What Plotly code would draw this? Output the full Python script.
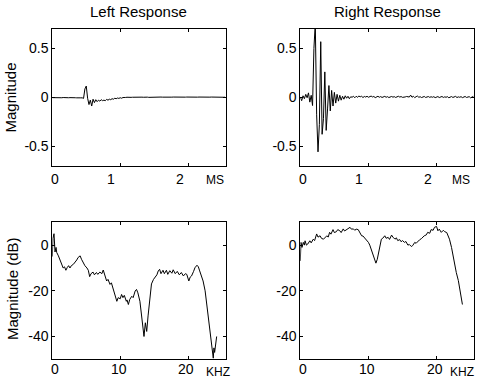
import plotly.graph_objects as go

# ---------------- data ----------------
DT_MS = 0.02  # sample period of the impulse responses (ms)

left_impulse = [
    -0.004, -0.005, -0.003, -0.005, -0.004, -0.006, -0.004, -0.005, -0.003, -0.005,
    -0.006, -0.004, -0.005, -0.004, -0.006, -0.005, -0.004, -0.005, -0.006, -0.004,
    -0.007, -0.006, -0.006, -0.012, 0.085, 0.115, -0.01, -0.075, -0.03, -0.09,
    -0.02, -0.055, -0.025, -0.045, -0.03, -0.04, -0.025, -0.035, -0.03, -0.035,
    -0.022, -0.03, -0.02, -0.025, -0.015, -0.02, -0.01, -0.015, -0.008, -0.012,
    -0.005, -0.01, -0.003, -0.006, -0.002, 0.0, -0.002, 0.001, -0.001, 0.0,
    0.001, -0.001, 0.0, 0.002, 0.0, -0.001, 0.001, 0.0, 0.002, 0.0,
    0.001, -0.001, 0.0, 0.001, 0.0, 0.002, 0.001, 0.0, 0.001, 0.0,
    0.002, 0.001, 0.0, 0.001, 0.003, 0.001, 0.0, 0.002, 0.001, 0.002,
    0.001, 0.0, 0.002, 0.001, 0.002, 0.001, 0.002, 0.0, 0.001, 0.002,
    0.001, 0.002, 0.001, 0.0, 0.002, 0.001, 0.0, 0.001, 0.002, 0.001,
    0.0, 0.001, 0.002, 0.004, 0.001, 0.0, 0.001, 0.002, 0.001, 0.0,
    0.001, 0.0, 0.002, 0.001, 0.0, 0.001, 0.0, 0.001,
]

right_impulse = [
    0.0, -0.035, 0.015, -0.015, 0.03, -0.005, 0.045, -0.05, 0.02, -0.085,
    0.50, 0.76, -0.18, -0.56, -0.28, 0.57, -0.38, -0.22, 0.26, -0.34,
    -0.12, 0.12, -0.14, 0.07, -0.09, 0.05, -0.06, 0.03,
    -0.04, 0.02, -0.03, 0.01, -0.02, 0.015, -0.01, 0.01, -0.015, 0.005, 0.0, 0.01, -0.005,
    0.01, 0.0, 0.012, 0.005, 0.01, -0.003, 0.008, 0.002, 0.01, 0.0,
    0.006, 0.012, 0.003, 0.008, -0.004, 0.005, 0.01, 0.0, 0.007, -0.002,
    0.004, 0.009, 0.0, 0.006, -0.003, 0.005, 0.008, 0.001, 0.006, -0.002,
    0.004, 0.01, 0.002, 0.007, -0.001, 0.005, 0.003, 0.008, 0.004, 0.002,
    0.022, 0.0, 0.01, -0.004, 0.006, 0.012, 0.0, 0.005, -0.003, 0.004,
    0.008, -0.002, 0.003, 0.007, -0.001, 0.005, 0.0, 0.006, -0.004, 0.003,
    0.007, -0.003, 0.002, 0.008, -0.002, 0.004, 0.0, 0.006, -0.005, 0.003,
    0.007, -0.002, 0.002, 0.009, -0.003, 0.004, 0.0, 0.006, -0.004, 0.005,
    0.008, -0.002, 0.003, 0.006, -0.006, 0.004, 0.009,
]

left_freq_khz = [
    0, 0.1, 0.25, 0.4, 0.55, 0.65, 0.9, 1.1, 1.4, 1.6, 1.8, 2.0, 2.2, 2.4, 2.6, 2.8,
    3.1, 3.4, 3.6, 3.8, 4.1, 4.3, 4.6, 4.8, 5.1, 5.3, 5.5, 5.7, 6.0, 6.2, 6.5, 6.7,
    7.0, 7.3, 7.5, 7.7, 8.0, 8.2, 8.5, 8.7, 9.0, 9.2, 9.5, 9.7, 10.0, 10.2, 10.4, 10.6,
    10.9, 11.0, 11.2, 11.4, 11.7, 11.9, 12.2, 12.4, 12.6, 12.9, 13.1, 13.4, 13.5, 13.7,
    13.9, 14.1, 14.4, 14.6, 14.9, 15.1, 15.4, 15.6, 15.8, 16.0, 16.3, 16.5, 16.8, 17.0,
    17.3, 17.6, 17.8, 18.1, 18.4, 18.7, 19.0, 19.3, 19.6, 19.8, 20.1, 20.3, 20.5, 20.8,
    21.0, 21.3, 21.5, 21.7, 22.0, 22.2, 22.5, 22.7, 22.9, 23.1, 23.3, 23.4, 23.55, 23.7,
    23.8, 23.9, 24.2,
]
left_mag_db = [
    -5, 3, 5, -3, -1, -3.2, -4.7, -6, -8.4, -10, -9.5, -11, -9.8, -9, -10, -9,
    -8.4, -7.5, -6.5, -5.4, -4.7, -6.2, -8, -9, -10, -11, -13.8, -12.5, -11.8, -13, -12, -12.8,
    -11.8, -12.5, -10.9, -13.2, -15.7, -15, -17.2, -16.5, -19.4, -22, -24.6, -23, -23.5, -21.6, -23, -22,
    -24.6, -24, -26, -23.8, -22.4, -23, -20.1, -19.4, -20.9, -24.6, -29.7, -35.6, -40, -34,
    -37.8, -31, -23.8, -17, -15, -14.3, -13, -11.3, -10.6, -12.5, -11, -12.5, -11, -12.8,
    -11.2, -12.3, -10.8, -12.5, -11.5, -13, -12, -13.5, -12.5, -12.8, -15.7, -14, -13.5, -11.5,
    -9.9, -8.8, -9.5, -11.3, -13.5, -15.7, -20, -25.3, -30, -34, -40, -43, -47, -49.5,
    -45, -47, -40,
]

right_freq_khz = [
    0, 0.1, 0.25, 0.44, 0.6, 0.7, 0.9, 1.1, 1.4, 1.6, 1.9, 2.1, 2.4, 2.6, 2.9, 3.1,
    3.4, 3.6, 3.9, 4.1, 4.3, 4.5, 4.8, 5.0, 5.3, 5.5, 5.8, 6.0, 6.3, 6.5, 6.8, 7.0,
    7.3, 7.5, 7.8, 8.0, 8.2, 8.5, 8.7, 9.0, 9.2, 9.5, 9.8, 10.0, 10.2, 10.4, 10.6, 10.8,
    11.0, 11.1, 11.3, 11.45, 11.6, 11.75, 11.9, 12.1, 12.4, 12.6, 12.9, 13.1, 13.4, 13.6,
    13.9, 14.1, 14.3, 14.6, 14.8, 15.0, 15.3, 15.5, 15.8, 16.0, 16.3, 16.5, 16.8, 17.0,
    17.3, 17.5, 17.8, 18.0, 18.2, 18.5, 18.7, 19.0, 19.2, 19.5, 19.7, 20.0, 20.2, 20.4,
    20.7, 21.0, 21.2, 21.5, 21.7, 21.9, 22.2, 22.4, 22.7, 22.9, 23.2, 23.4, 23.6, 23.8,
]
right_mag_db = [
    -6.9, 1.2, -1, 1.2, 0, 1.9, 0, 0.5, 1.9, 1, 2.6, 2, 4.9, 3.5, 4.1, 3,
    2.6, 3.2, 4.1, 3.5, 5.6, 4.8, 6.8, 5.5, 5.9, 6.8, 6.3, 5.5, 7.1, 6.2, 6.8, 7.5,
    7.8, 7, 7.1, 6.5, 7, 6.8, 5.5, 4.1, 4, 2.9, 2.2, 1.2, 0, -1.8, -3, -4.7,
    -6.5, -7.9, -6.2, -4, -1.8, 0.5, 2.6, 3, 4.1, 3, 3.4, 2.5, 4.4, 3.5,
    2.6, 3.2, 2, 2.4, 1.5, 2, 1.2, 1.6, 0, 0.3, -0.6, -0.2, 1.2, 0.8,
    1.9, 2.3, 2.9, 3.5, 4.1, 4.5, 5.6, 5.2, 6.8, 6.5, 7.8, 8.2, 6.3, 7,
    5.6, 6.5, 5.9, 5.5, 4.1, 2.6, -1, -4.7, -8.5, -12, -15.5, -18.7, -22, -26,
]

titles = ["Left Response", "Right Response"]
time_ticks = [0, 1, 2]
time_tick_text = ["0", "1", "2"]
freq_ticks = [0, 10, 20]
freq_tick_text = ["0", "10", "20"]
mag_ticks = [-0.5, 0, 0.5]
mag_tick_text = ["-0.5", "0", "0.5"]
db_ticks = [-40, -20, 0]
db_tick_text = ["-40", "-20", "0"]
time_unit = "MS"
freq_unit = "KHZ"
ylabel_top = "Magnitude"
ylabel_bottom = "Magnitude (dB)"

# ---------------- figure ----------------
W, H = 479, 380
FONT = "Liberation Sans, Arial, Helvetica, sans-serif"

def px_x(p):
    return p / W

def px_y(p):
    return 1 - p / H

dom_x_left = [px_x(52.3), px_x(225.5)]
dom_x_right = [px_x(300.3), px_x(474.0)]
dom_y_top = [px_y(165.5), px_y(29.0)]
dom_y_bot = [px_y(359.3), px_y(222.3)]

left_t = [i * DT_MS for i in range(len(left_impulse))]
right_t = [i * DT_MS for i in range(len(right_impulse))]

fig = go.Figure()
line = dict(color="black", width=1)
fig.add_trace(go.Scatter(x=left_t, y=left_impulse, mode="lines", line=line, xaxis="x", yaxis="y"))
fig.add_trace(go.Scatter(x=right_t, y=right_impulse, mode="lines", line=line, xaxis="x2", yaxis="y2"))
fig.add_trace(go.Scatter(x=left_freq_khz, y=left_mag_db, mode="lines", line=line, xaxis="x3", yaxis="y3"))
fig.add_trace(go.Scatter(x=right_freq_khz, y=right_mag_db, mode="lines", line=line, xaxis="x4", yaxis="y4"))

def xax(domain, anchor, rng, ticks):
    return dict(domain=domain, anchor=anchor, range=rng, tickvals=ticks,
                showticklabels=False, ticks="inside", ticklen=3, tickcolor="black",
                showline=True, linecolor="black", linewidth=1, mirror="ticks",
                showgrid=False, zeroline=False, fixedrange=True)

def yax(domain, anchor, rng, ticks, texts):
    return dict(domain=domain, anchor=anchor, range=rng, tickvals=ticks, ticktext=texts,
                ticks="inside", ticklen=3, tickcolor="black",
                showline=True, linecolor="black", linewidth=1, mirror="ticks",
                showgrid=False, zeroline=False, fixedrange=True,
                tickfont=dict(family=FONT, size=14, color="black"))

fig.update_layout(
    width=W, height=H, margin=dict(l=0, r=0, t=0, b=0),
    paper_bgcolor="white", plot_bgcolor="white", showlegend=False,
    xaxis=xax(dom_x_left, "y", [0, 2.55], time_ticks),
    yaxis=yax(dom_y_top, "x", [-0.7, 0.7], mag_ticks, mag_tick_text),
    xaxis2=xax(dom_x_right, "y2", [0, 2.55], time_ticks),
    yaxis2=yax(dom_y_top, "x2", [-0.7, 0.7], mag_ticks, mag_tick_text),
    xaxis3=xax(dom_x_left, "y3", [0, 25.5], freq_ticks),
    yaxis3=yax(dom_y_bot, "x3", [-50, 10], db_ticks, db_tick_text),
    xaxis4=xax(dom_x_right, "y4", [0, 25.5], freq_ticks),
    yaxis4=yax(dom_y_bot, "x4", [-50, 10], db_ticks, db_tick_text),
)

ann = []
tf = dict(family=FONT, size=14, color="black")
# titles
for dom, t in zip([dom_x_left, dom_x_right], titles):
    ann.append(dict(text=t, x=(dom[0] + dom[1]) / 2, y=px_y(12), xref="paper", yref="paper",
                    xanchor="center", yanchor="middle", showarrow=False,
                    font=dict(family=FONT, size=15, color="black")))
# y labels
ann.append(dict(text=ylabel_top, x=px_x(10), y=px_y(97.5), xref="paper", yref="paper",
                textangle=-90, xanchor="center", yanchor="middle", showarrow=False,
                font=dict(family=FONT, size=15, color="black")))
ann.append(dict(text=ylabel_bottom, x=px_x(12), y=px_y(289), xref="paper", yref="paper",
                textangle=-90, xanchor="center", yanchor="middle", showarrow=False,
                font=dict(family=FONT, size=15, color="black")))
# x tick labels (drawn at tick values, with the reference's small offsets)
time_shift = [3, -9, -8.5]
freq_shift = [3, -1, -2]
for xr in ["x", "x2"]:
    for v, t, s in zip(time_ticks, time_tick_text, time_shift):
        ann.append(dict(text=t, x=v, y=px_y(179), xref=xr, yref="paper", xshift=s,
                        xanchor="center", yanchor="middle", showarrow=False, font=tf))
for xr in ["x3", "x4"]:
    for v, t, s in zip(freq_ticks, freq_tick_text, freq_shift):
        ann.append(dict(text=t, x=v, y=px_y(369), xref=xr, yref="paper", xshift=s,
                        xanchor="center", yanchor="middle", showarrow=False, font=tf))
# unit labels
uf = dict(family=FONT, size=12, color="black")
ann.append(dict(text=time_unit, x=dom_x_left[1] - px_x(11), y=px_y(180), xref="paper", yref="paper",
                xanchor="center", yanchor="middle", showarrow=False, font=uf))
ann.append(dict(text=time_unit, x=dom_x_right[1] - px_x(13), y=px_y(180), xref="paper", yref="paper",
                xanchor="center", yanchor="middle", showarrow=False, font=uf))
ann.append(dict(text=freq_unit, x=dom_x_left[1] - px_x(8), y=px_y(372), xref="paper", yref="paper",
                xanchor="center", yanchor="middle", showarrow=False, font=uf))
ann.append(dict(text=freq_unit, x=dom_x_right[1] - px_x(12), y=px_y(372), xref="paper", yref="paper",
                xanchor="center", yanchor="middle", showarrow=False, font=uf))
fig.update_layout(annotations=ann)

fig.write_html(
    "out.html",
    config={"displayModeBar": False, "staticPlot": True},
    post_script="document.body.style.margin='0';document.body.style.padding='0';",
)
